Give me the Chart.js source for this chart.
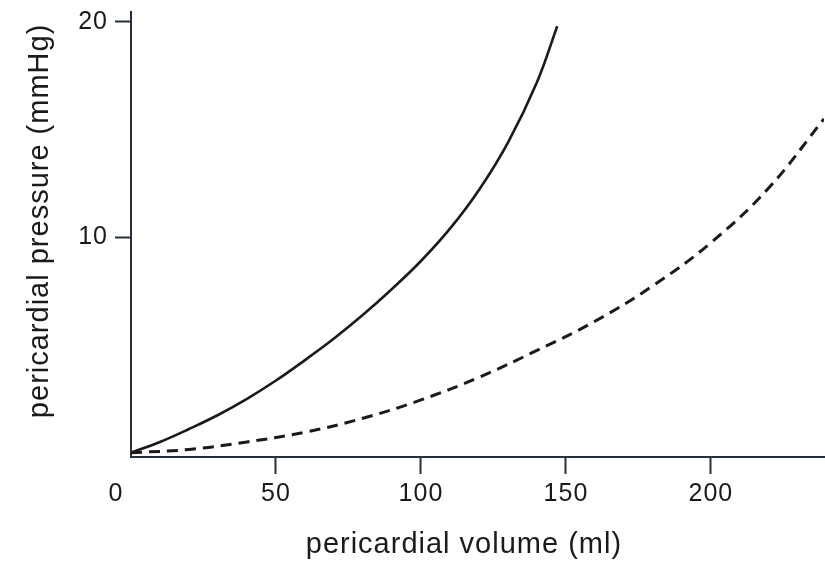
<!DOCTYPE html>
<html lang="en">
  <head>
    <meta charset="UTF-8" />
    <title>Pericardial pressure-volume curves</title>
    <style>
      html, body {
        margin: 0;
        padding: 0;
        background: #fff;
      }
      .wrap {
        width: 825px;
        height: 563px;
      }
    </style>
    <script src="https://cdn.jsdelivr.net/npm/chart.js"></script>
  </head>
  <body>
    <div class="wrap"><canvas id="pvChart"></canvas></div>
    <script>
      // solid curve
      const volumeSolid = [0, 10, 20, 30, 40, 50, 60, 70, 80, 90, 100, 110, 120, 130, 140, 147];
      const pressureSolid = [0, 0.5, 1.1, 1.75, 2.5, 3.35, 4.3, 5.3, 6.4, 7.6, 8.9, 10.4, 12.2, 14.4, 17.2, 19.8];
      // dashed curve
      const volumeDashed = [0, 20, 40, 60, 80, 100, 120, 140, 160, 180, 200, 220, 239];
      const pressureDashed = [0, 0.15, 0.5, 0.95, 1.6, 2.45, 3.5, 4.75, 6.1, 7.75, 9.75, 12.3, 15.5];

      const xTicks = [0, 50, 100, 150, 200];
      const yTicks = [10, 20];

      const ink = "#1a1a1a";
      const axisInk = "#26303a";
      const family = "'Liberation Sans', Arial, sans-serif";

      const toPoints = (xs, ys) => xs.map((x, i) => ({ x: x, y: ys[i] }));

      // a little extra tracking, the scanned lettering is wide
      const spacing = {
        id: "spacing",
        beforeLayout(chart) { chart.ctx.letterSpacing = "1px"; },
        beforeDraw(chart) { chart.ctx.letterSpacing = "1px"; }
      };

      // the "0" of the x axis sits left of the origin
      const originLabel = {
        id: "originLabel",
        afterDraw(chart) {
          const xs = chart.scales.x;
          const ctx = chart.ctx;
          ctx.save();
          ctx.letterSpacing = "1px";
          ctx.font = "25px " + family;
          ctx.fillStyle = ink;
          ctx.textAlign = "center";
          ctx.textBaseline = "middle";
          ctx.fillText("0", xs.getPixelForValue(0) - 15, xs.top + 17 + 5 + 15);
          ctx.restore();
        }
      };

      const ctx = document.getElementById("pvChart").getContext("2d");
      const chart = new Chart(ctx, {
        type: "line",
        data: {
          datasets: [
            {
              label: "solid",
              data: toPoints(volumeSolid, pressureSolid),
              borderColor: ink,
              borderWidth: 2.6,
              pointRadius: 0,
              tension: 0.4,
              fill: false
            },
            {
              label: "dashed",
              data: toPoints(volumeDashed, pressureDashed),
              borderColor: ink,
              borderWidth: 3,
              borderDash: [11, 7],
              pointRadius: 0,
              tension: 0.4,
              fill: false
            }
          ]
        },
        options: {
          responsive: true,
          maintainAspectRatio: false,
          animation: false,
          layout: { padding: { top: 12, right: 1, left: 0, bottom: 0 } },
          plugins: {
            legend: { display: false },
            tooltip: { enabled: false }
          },
          scales: {
            x: {
              type: "linear",
              min: 0,
              max: 239,
              afterBuildTicks: scale => { scale.ticks = xTicks.map(v => ({ value: v })); },
              afterFit: scale => {
                scale.height = 106;
                scale.paddingLeft = 0;
                scale.paddingRight = 0;
              },
              border: { display: true, color: axisInk, width: 2 },
              grid: {
                drawOnChartArea: false,
                tickLength: 17,
                tickWidth: 2,
                tickColor: c => (c.tick && c.tick.value === 0 ? "rgba(0,0,0,0)" : axisInk)
              },
              ticks: {
                padding: 5,
                color: ink,
                font: { family: family, size: 25 },
                maxRotation: 0,
                autoSkip: false,
                callback: v => (v === 0 ? "" : v)
              },
              title: {
                display: true,
                // trailing spaces nudge the centred title left, as in the original
                text: "pericardial volume (ml)   ",
                color: ink,
                font: { family: family, size: 29 },
                padding: { top: 0, bottom: 1 }
              }
            },
            y: {
              min: -0.2,
              max: 20.46,
              afterBuildTicks: scale => { scale.ticks = yTicks.map(v => ({ value: v })); },
              afterFit: scale => {
                scale.width = 131;
                scale.paddingTop = 0;
                scale.paddingBottom = 0;
              },
              border: { display: true, color: axisInk, width: 2 },
              grid: {
                drawOnChartArea: false,
                tickLength: 16,
                tickWidth: 2,
                tickColor: axisInk
              },
              ticks: {
                padding: 7,
                color: ink,
                font: { family: family, size: 25 }
              },
              title: {
                display: true,
                text: "   pericardial pressure (mmHg)",
                color: ink,
                font: { family: family, size: 29 },
                padding: { top: 23, bottom: 0 }
              }
            }
          }
        },
        plugins: [spacing, originLabel]
      });
    </script>
  </body>
</html>
